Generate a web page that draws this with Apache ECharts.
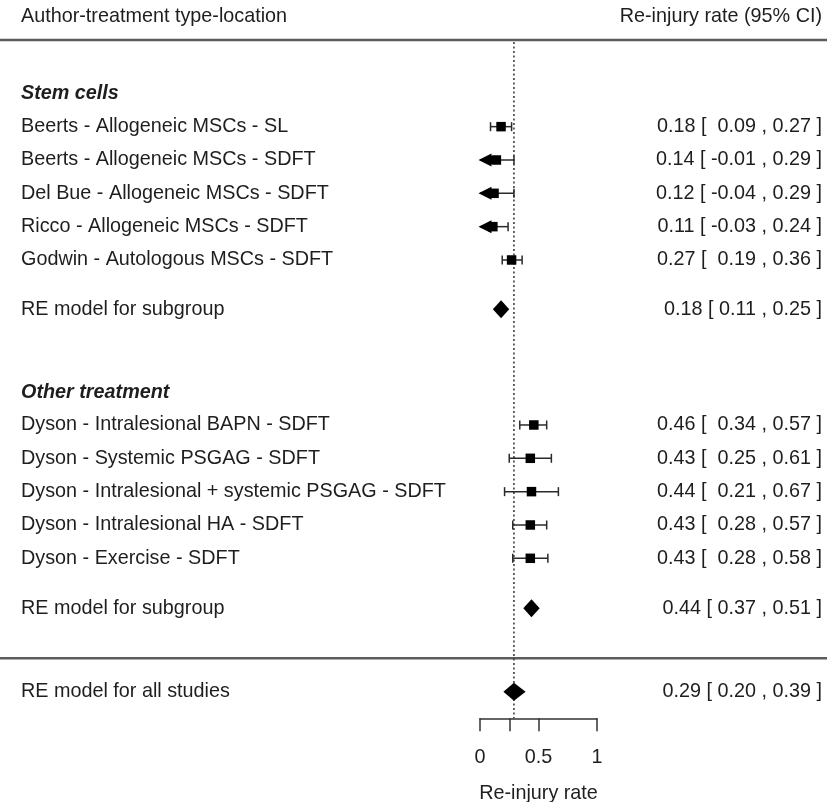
<!DOCTYPE html>
<html><head><meta charset="utf-8">
<script src="https://cdn.jsdelivr.net/npm/echarts@6/dist/echarts.min.js"></script>
<style>html,body{margin:0;padding:0;background:#fff;overflow:hidden}#c{width:827px;height:802px}</style>
</head><body><div id="c"></div>
<script>
// ---------- data ----------
const headerLeft = "Author-treatment type-location";
const headerRight = "Re-injury rate (95% CI)";
const group1Title = "Stem cells";
const group1Labels = ["Beerts - Allogeneic MSCs - SL", "Beerts - Allogeneic MSCs - SDFT", "Del Bue - Allogeneic MSCs - SDFT", "Ricco - Allogeneic MSCs - SDFT", "Godwin - Autologous MSCs - SDFT"];
const group1Est = [0.18, 0.14, 0.12, 0.11, 0.27];
const group1Lo  = [0.09, -0.01, -0.04, -0.03, 0.19];
const group1Hi  = [0.27, 0.29, 0.29, 0.24, 0.36];
const group1RE  = [0.18, 0.11, 0.25];
const group2Title = "Other treatment";
const group2Labels = ["Dyson - Intralesional BAPN - SDFT", "Dyson - Systemic PSGAG - SDFT", "Dyson - Intralesional + systemic PSGAG - SDFT", "Dyson - Intralesional HA - SDFT", "Dyson - Exercise - SDFT"];
const group2Est = [0.46, 0.43, 0.44, 0.43, 0.43];
const group2Lo  = [0.34, 0.25, 0.21, 0.28, 0.28];
const group2Hi  = [0.57, 0.61, 0.67, 0.57, 0.58];
const group2RE  = [0.44, 0.37, 0.51];
const overallRE = [0.29, 0.20, 0.39];
const reLabel = "RE model for subgroup";
const overallLabel = "RE model for all studies";
const xTicks = [0, 0.25, 0.5, 1];
const xTickLabels = [0, 0.5, 1];
const axisTitle = "Re-injury rate";

// ---------- layout (row units; 1 row = 33.33px) ----------
const Y = {header:0.51, topLine:1.2, g1Head:2.8, g1Start:3.8, g1RE:9.28, g2Head:11.77, g2Start:12.75, g2RE:18.25, bottomLine:19.75, overall:20.75, axis:21.55};
const FONT = "'Liberation Sans', Arial, sans-serif";
const FS = 19.8;
const TXT = '#1e1e1e';

function f2(v){ return v.toFixed(2); }
function ciText(e,l,h){
  const lo = (l < 0) ? ' ' + f2(l) : '  ' + f2(l);
  return f2(e) + ' [' + lo + ' , ' + f2(h) + ' ]';
}
function reText(a){ return f2(a[0]) + ' [ ' + f2(a[1]) + ' , ' + f2(a[2]) + ' ]'; }

const studies = [];
group1Labels.forEach((l,i)=>studies.push({label:l, est:group1Est[i], lo:group1Lo[i], hi:group1Hi[i], y:Y.g1Start+i}));
group2Labels.forEach((l,i)=>studies.push({label:l, est:group2Est[i], lo:group2Lo[i], hi:group2Hi[i], y:Y.g2Start+i}));
const diamonds = [
  {v:group1RE, y:Y.g1RE, label:reLabel},
  {v:group2RE, y:Y.g2RE, label:reLabel},
  {v:overallRE, y:Y.overall, label:overallLabel}
];

const texts = [];
texts.push({t:headerLeft, y:Y.header, side:'l'});
texts.push({t:headerRight, y:Y.header, side:'r'});
texts.push({t:group1Title, y:Y.g1Head, side:'l', bold:true});
texts.push({t:group2Title, y:Y.g2Head, side:'l', bold:true});
studies.forEach(s=>{
  texts.push({t:s.label, y:s.y, side:'l'});
  texts.push({t:ciText(s.est,s.lo,s.hi), y:s.y, side:'r'});
});
diamonds.forEach(d=>{
  texts.push({t:d.label, y:d.y, side:'l'});
  texts.push({t:reText(d.v), y:d.y, side:'r'});
});

const LINE = '#2a2a2a';

const option = {
  animation:false,
  backgroundColor:'#fff',
  grid:{left:480, width:117, top:0, height:718.3, containLabel:false, outerBoundsMode:'none'},
  xAxis:{
    type:'value', min:0, max:1, interval:0.25,
    axisLine:{show:true, onZero:false, lineStyle:{color:'#333', width:1.5}},
    axisTick:{show:true, length:13, customValues:xTicks, lineStyle:{color:'#333', width:1.5}},
    axisLabel:{customValues:xTickLabels, margin:29, fontSize:FS, color:TXT, fontFamily:FONT},
    splitLine:{show:false},
    name:axisTitle, nameLocation:'middle', nameGap:65,
    nameTextStyle:{fontSize:FS, color:TXT, fontFamily:FONT}
  },
  yAxis:{type:'value', min:0, max:Y.axis, inverse:true, show:false},
  series:[
    {
      type:'custom', clip:false, silent:true,
      data:[[0,Y.topLine],[0,Y.bottomLine]],
      renderItem:function(params, api){
        const p = api.coord([0, api.value(1)]);
        return {type:'line', shape:{x1:0,y1:p[1],x2:827,y2:p[1]}, style:{stroke:'#5c5c5c', lineWidth:2.5}};
      }
    },
    {
      type:'custom', clip:false, silent:true,
      data:[[overallRE[0], Y.topLine]],
      renderItem:function(params, api){
        const a = api.coord([api.value(0), Y.topLine]);
        const b = api.coord([api.value(0), Y.axis]);
        return {type:'line', shape:{x1:a[0],y1:a[1]+2,x2:b[0],y2:b[1]}, style:{stroke:'#333', lineWidth:1.5, lineDash:[2,2.5]}};
      }
    },
    {
      type:'custom', clip:false, silent:true,
      data:studies.map(s=>[s.est, s.y, s.lo, s.hi]),
      renderItem:function(params, api){
        const est = api.value(0), y = api.value(1), lo = api.value(2), hi = api.value(3);
        const cl = Math.max(lo, 0);
        const pl = api.coord([cl, y]), ph = api.coord([hi, y]), pe = api.coord([est, y]);
        const cy = pe[1];
        const children = [];
        const st = {stroke:LINE, lineWidth:1.5};
        children.push({type:'line', shape:{x1:pl[0],y1:cy,x2:ph[0],y2:cy}, style:st});
        children.push({type:'line', shape:{x1:ph[0],y1:cy-4.5,x2:ph[0],y2:cy+4.5}, style:st});
        if (lo >= 0) {
          children.push({type:'line', shape:{x1:pl[0],y1:cy-4.5,x2:pl[0],y2:cy+4.5}, style:st});
        }
        const s = 9.5;
        children.push({type:'rect', shape:{x:pe[0]-s/2, y:cy-s/2, width:s, height:s}, style:{fill:'#000'}});
        if (lo < 0) {
          const tip = pl[0]-1.5;
          children.push({type:'polygon', shape:{points:[[tip,cy],[tip+13,cy-6.5],[tip+13,cy+6.5]]}, style:{fill:'#000'}});
          children.push({type:'rect', shape:{x:tip+12, y:cy-4, width:pe[0]-tip-12, height:8}, style:{fill:'#000'}});
        }
        return {type:'group', children:children};
      }
    },
    {
      type:'custom', clip:false, silent:true,
      data:diamonds.map(d=>[d.v[0], d.y, d.v[1], d.v[2]]),
      renderItem:function(params, api){
        const y = api.value(1);
        const pe = api.coord([api.value(0), y]);
        const pl = api.coord([api.value(2), y]);
        const ph = api.coord([api.value(3), y]);
        const h = 9;
        return {type:'polygon', shape:{points:[[pl[0],pe[1]],[pe[0],pe[1]-h],[ph[0],pe[1]],[pe[0],pe[1]+h]]}, style:{fill:'#000'}};
      }
    },
    {
      type:'custom', clip:false, silent:true,
      data:texts.map(t=>[0, t.y]),
      renderItem:function(params, api){
        const t = texts[params.dataIndex];
        const p = api.coord([0, api.value(1)]);
        return {type:'text', style:{
          x: t.side === 'l' ? 21 : 822, y:p[1], text:t.t,
          align: t.side === 'l' ? 'left' : 'right', verticalAlign:'middle',
          fontSize:FS, fontFamily:FONT, fill:TXT,
          fontWeight: t.bold ? 'bold' : 'normal', fontStyle: t.bold ? 'italic' : 'normal'
        }};
      }
    }
  ]
};
const chart = echarts.init(document.getElementById('c'), null, {renderer:'canvas'});
chart.setOption(option);
</script>
</body></html>
